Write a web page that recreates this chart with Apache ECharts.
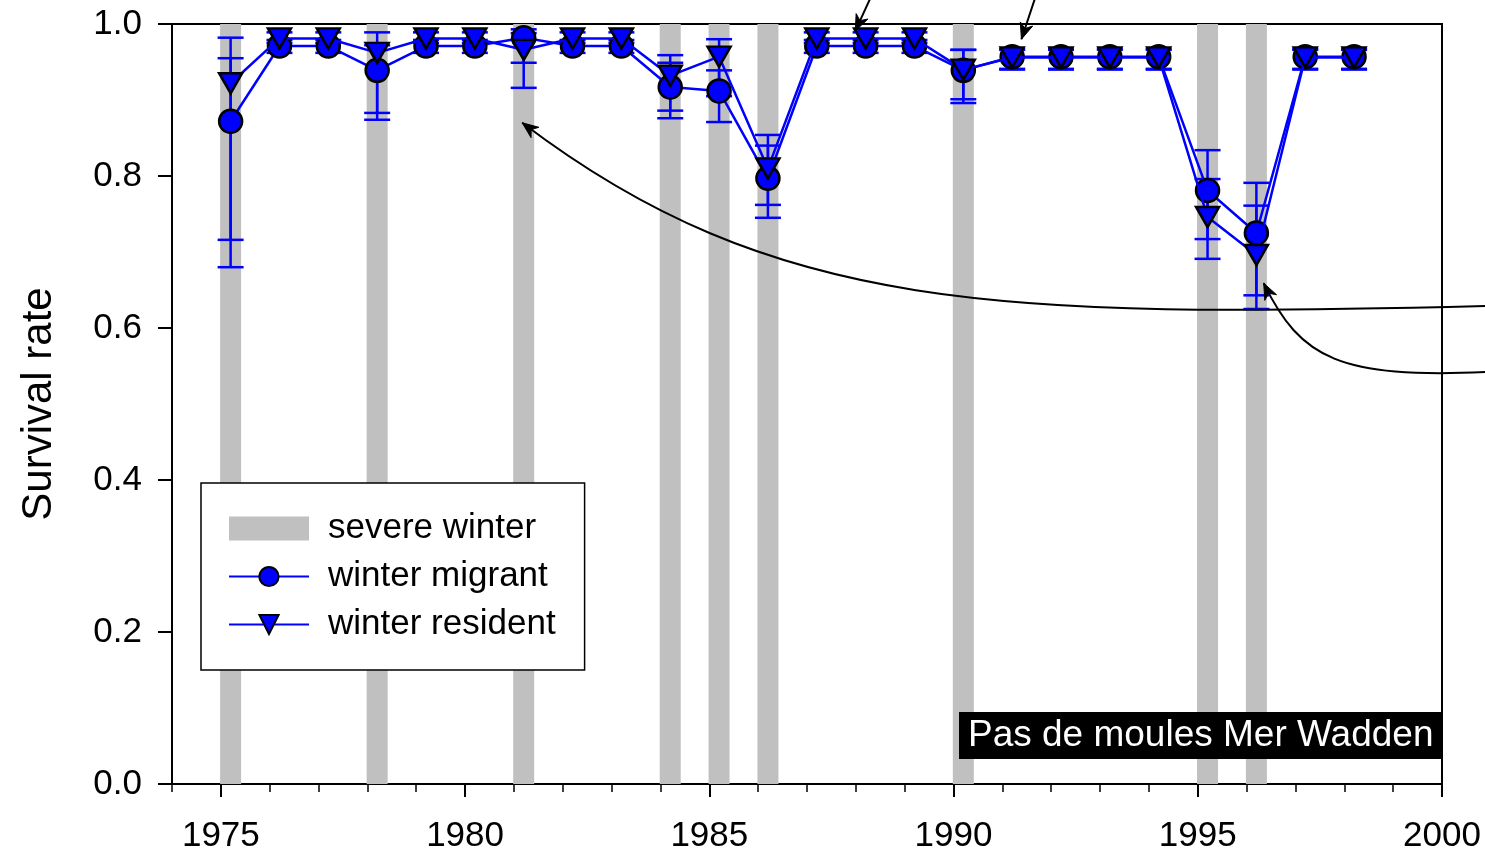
<!DOCTYPE html>
<html><head><meta charset="utf-8">
<script src="https://cdn.jsdelivr.net/npm/echarts@6/dist/echarts.min.js"></script>
<style>html,body{margin:0;padding:0;background:#fff}#c{width:1485px;height:864px}</style>
</head><body><div id="c"></div><script>
// ---- data ----
const years = [1975,1976,1977,1978,1979,1980,1981,1982,1983,1984,1985,1986,1987,1988,1989,1990,1991,1992,1993,1994,1995,1996,1997,1998];
const migrant     = [0.872,0.971,0.971,0.939,0.971,0.971,0.982,0.971,0.971,0.917,0.912,0.797,0.971,0.971,0.971,0.939,0.957,0.957,0.957,0.957,0.781,0.725,0.957,0.957];
const migrantLow  = [0.680,0.962,0.962,0.874,0.962,0.962,0.949,0.962,0.962,0.876,0.871,0.745,0.962,0.962,0.962,0.896,0.941,0.941,0.941,0.941,0.717,0.643,0.941,0.941];
const migrantHigh = [0.955,0.979,0.979,0.972,0.979,0.979,0.993,0.979,0.979,0.949,0.939,0.840,0.979,0.979,0.979,0.966,0.967,0.967,0.967,0.967,0.834,0.791,0.967,0.967];
const resident     = [0.922,0.981,0.981,0.962,0.981,0.981,0.966,0.981,0.981,0.932,0.957,0.810,0.981,0.981,0.981,0.940,0.956,0.956,0.956,0.956,0.746,0.696,0.956,0.956];
const residentLow  = [0.716,0.975,0.975,0.883,0.975,0.975,0.916,0.975,0.975,0.886,0.905,0.762,0.975,0.975,0.975,0.901,0.940,0.940,0.940,0.940,0.691,0.625,0.940,0.940];
const residentHigh = [0.982,0.989,0.989,0.989,0.989,0.989,0.988,0.989,0.989,0.959,0.980,0.854,0.989,0.989,0.989,0.966,0.966,0.966,0.966,0.966,0.796,0.761,0.966,0.966];
const severeWinters = [1975,1978,1981,1984,1985,1986,1990,1995,1996];
const xTickLabels = [1975,1980,1985,1990,1995,2000];
const xMinorTicks = [1974,1975,1976,1977,1978,1979,1980,1981,1982,1983,1984,1985,1986,1987,1988,1989,1990,1991,1992,1993,1994,1995,1996,1997,1998,1999,2000];
const seriesNames = ['severe winter','winter migrant','winter resident'];
const boxLabel = 'Pas de moules Mer Wadden';
const yAxisTitle = 'Survival rate';

// ---- layout / style ----
const X_SHIFT = 0.2;
const FONT = '"Liberation Sans", Arial, Helvetica, sans-serif';
const BLUE = '#0000FF';
const LW = 2.5;
const chart = echarts.init(document.getElementById('c'), null, {renderer:'canvas'});

const pts = (vals) => years.map((y,i)=>[y+X_SHIFT, vals[i]]);
const errs = (lo,hi) => years.map((y,i)=>[y+X_SHIFT, lo[i], hi[i]]);
function errRender(params, api){
  const x = api.value(0);
  const a = api.coord([x, api.value(1)]);
  const b = api.coord([x, api.value(2)]);
  const hw = 13;
  const style = {stroke:BLUE, lineWidth:LW};
  return {type:'group', children:[
    {type:'line', shape:{x1:a[0],y1:a[1],x2:b[0],y2:b[1]}, style},
    {type:'line', shape:{x1:a[0]-hw,y1:a[1],x2:a[0]+hw,y2:a[1]}, style},
    {type:'line', shape:{x1:b[0]-hw,y1:b[1],x2:b[0]+hw,y2:b[1]}, style}
  ]};
}

chart.setOption({
  animation:false,
  textStyle:{fontFamily:FONT},
  grid:{left:172, right:43, top:24, bottom:80, show:true, borderColor:'#000', borderWidth:2, backgroundColor:'transparent'},
  title:{text:boxLabel, left:959, top:712, backgroundColor:'#000', padding:[5,8,5,9], z:10,
    textStyle:{color:'#fff', fontSize:37, fontWeight:'normal', fontFamily:FONT}},
  legend:{orient:'vertical', left:201, top:483, selectedMode:false, z:10,
    data:[{name:seriesNames[0], icon:'rect'}, {name:seriesNames[1]}, {name:seriesNames[2]}],
    itemWidth:80, itemHeight:24, itemGap:13, padding:[28,29,28,27],
    borderColor:'#000', borderWidth:1.5, backgroundColor:'#fff',
    textStyle:{fontSize:35, color:'#000', fontFamily:FONT, padding:[0,0,0,14]}},
  xAxis:[
    {type:'value', min:1974, max:2000, position:'bottom',
     axisLine:{show:true, onZero:false, lineStyle:{color:'#000', width:2}},
     axisTick:{show:true, customValues:xTickLabels, length:13, lineStyle:{color:'#000', width:2}},
     axisLabel:{customValues:xTickLabels, formatter:v=>String(Math.round(v)), fontSize:35, color:'#000', fontFamily:FONT, margin:35},
     splitLine:{show:false}},
    {type:'value', min:1974, max:2000, position:'bottom',
     axisLine:{show:false, onZero:false},
     axisTick:{show:true, customValues:xMinorTicks, length:8, lineStyle:{color:'#000', width:1.5}},
     axisLabel:{show:false, customValues:xMinorTicks},
     splitLine:{show:false}}
  ],
  yAxis:{type:'value', min:0, max:1, interval:0.2,
    axisLine:{show:true, lineStyle:{color:'#000', width:2}},
    axisTick:{show:true, length:14, lineStyle:{color:'#000', width:2}},
    axisLabel:{formatter:v=>v.toFixed(1), fontSize:35, color:'#000', fontFamily:FONT, margin:30},
    splitLine:{show:false},
    name:yAxisTitle, nameLocation:'middle', nameGap:112,
    nameTextStyle:{fontSize:42, color:'#000', fontFamily:FONT}},
  series:[
    {name:seriesNames[0], type:'bar', data:severeWinters.map(y=>[y+X_SHIFT,1]), barWidth:21,
     itemStyle:{color:'#C0C0C0'}, z:1, silent:true},
    {type:'custom', renderItem:errRender, data:errs(migrantLow, migrantHigh), encode:{x:0, y:[1,2]}, z:2, silent:true},
    {type:'custom', renderItem:errRender, data:errs(residentLow, residentHigh), encode:{x:0, y:[1,2]}, z:2, silent:true},
    {name:seriesNames[1], type:'line', data:pts(migrant), symbol:'circle', symbolSize:23,
     itemStyle:{color:BLUE, borderColor:'#000', borderWidth:2.5}, lineStyle:{color:BLUE, width:LW}, z:3},
    {name:seriesNames[2], type:'line', data:pts(resident), symbol:'triangle', symbolRotate:180, symbolSize:[23,20],
     itemStyle:{color:BLUE, borderColor:'#000', borderWidth:2.5}, lineStyle:{color:BLUE, width:LW}, z:4}
  ]
});

// ---- annotation arrows (anchored in data units) ----
const arrowCurves = [
  {tip:[1981.17,0.870], c1:[1986.29,0.620], c2:[1990.96,0.613], tail:[2000.9,0.629]},
  {tip:[1996.35,0.659], c1:[1997.11,0.558], c2:[1997.93,0.534], tail:[2000.9,0.542]}
];
const arrowLines = [
  {tip:[1987.99,0.991], tail:[1988.34,1.040]},
  {tip:[1991.39,0.980], tail:[1991.70,1.040]}
];
function px(p){ return chart.convertToPixel({xAxisIndex:0, yAxisIndex:0}, p); }
function head(T, toward){
  let dx = toward[0]-T[0], dy = toward[1]-T[1];
  const d = Math.hypot(dx,dy); dx/=d; dy/=d;
  const L = 16, W = 6.5;
  const bx = T[0]+dx*L, by = T[1]+dy*L;
  const nx = -dy, ny = dx;
  return {type:'polygon', z:20, silent:true,
    shape:{points:[[T[0],T[1]],[bx+nx*W,by+ny*W],[T[0]+dx*L*0.7,T[1]+dy*L*0.7],[bx-nx*W,by-ny*W]]},
    style:{fill:'#000', stroke:'#000', lineWidth:1}};
}
const g = [];
arrowCurves.forEach(a=>{
  const T=px(a.tip), C1=px(a.c1), C2=px(a.c2), E=px(a.tail);
  g.push({type:'bezierCurve', z:20, silent:true,
    shape:{x1:T[0],y1:T[1],cpx1:C1[0],cpy1:C1[1],cpx2:C2[0],cpy2:C2[1],x2:E[0],y2:E[1]},
    style:{stroke:'#000', lineWidth:2, fill:null}});
  g.push(head(T, C1));
});
arrowLines.forEach(a=>{
  const T=px(a.tip), E=px(a.tail);
  g.push({type:'line', z:20, silent:true, shape:{x1:T[0],y1:T[1],x2:E[0],y2:E[1]}, style:{stroke:'#000', lineWidth:2}});
  g.push(head(T, E));
});
chart.setOption({graphic:g});
</script></body></html>
